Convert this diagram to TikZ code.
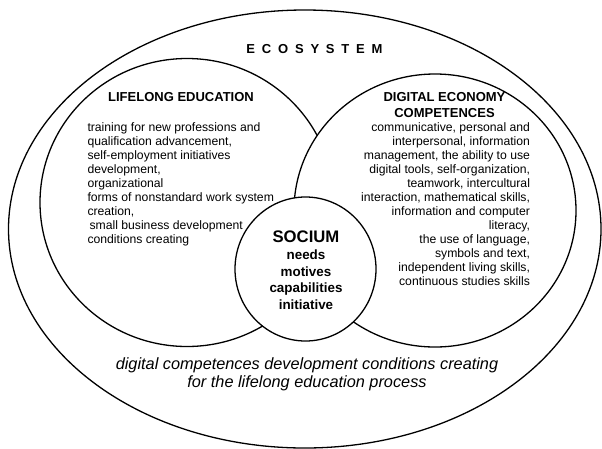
\documentclass[tikz,border=0pt]{standalone}
\usepackage{fontspec}
\setmainfont{Liberation Sans}
\begin{document}
\begin{tikzpicture}[x=1pt,y=-1pt,
  ring/.style={draw=black,line width=1.3pt},
  disc/.style={ring,fill=white},
  txt/.style={inner sep=0pt,outer sep=0pt,text=black},
  headfont/.style={font=\fontsize{13}{16}\selectfont\bfseries},
  bodyfont/.style={font=\fontsize{12.2}{14}\selectfont},
  sociumfont/.style={font=\fontsize{16.7}{20}\selectfont\bfseries},
  itemfont/.style={font=\fontsize{13.4}{16.5}\selectfont\bfseries},
  notefont/.style={font=\fontsize{16.3}{18}\selectfont\itshape}]
\useasboundingbox (0,0) rectangle (602,448);

% ecosystem frame
\draw[ring] (304.75,229) ellipse [x radius=296.25, y radius=219];
% lifelong education
\draw[ring] (187,202.5) ellipse [x radius=147, y radius=144];
% digital economy competences (covers the left circle)
\draw[disc] (435,210.5) ellipse [x radius=141, y radius=136.5];
% socium in the middle
\draw[disc] (305.5,269) ellipse [x radius=70.5, y radius=72];

% titles (multi-line nodes: the base anchor sits on the last line)
\node[txt,headfont,anchor=base] (ecosys) at (314.5,53.8)
  {E\kern6.8pt C\kern6.8pt O\kern6.8pt S\kern6.8pt Y\kern6.8pt S\kern6.8pt T\kern6.8pt E\kern6.8pt M};
\node[txt,headfont,anchor=base] (lifelong) at (181,101.7) {LIFELONG EDUCATION};
\node[txt,headfont,anchor=base,align=center] (digital) at (444.5,117.7)
  {DIGITAL ECONOMY\\COMPETENCES};

% left list
\node[txt,bodyfont,anchor=base west,align=left] (lifelist) at (87.5,243)
  {training for new professions and\\
   qualification advancement,\\
   self-employment initiatives\\
   development,\\
   organizational\\
   forms of nonstandard work system\\
   creation,\\
   \hspace{2pt}small business development\\
   conditions creating};

% right list
\node[txt,bodyfont,anchor=base east,align=right] (digilist) at (530,285)
  {communicative, personal and\\
   interpersonal, information\\
   management, the ability to use\\
   digital tools, self-organization,\\
   teamwork, intercultural\\
   interaction, mathematical skills,\\
   information and computer\\
   literacy,\\
   the use of language,\\
   symbols and text,\\
   independent living skills,\\
   continuous studies skills};

% socium
\node[txt,sociumfont,anchor=base] (socium) at (306,242.6) {SOCIUM};
\node[txt,itemfont,anchor=base,align=center] (needs) at (306,309)
  {needs\\motives\\capabilities\\initiative};

% bottom note
\node[txt,notefont,anchor=base,align=center] (note) at (307,387)
  {digital competences development conditions creating\\for the lifelong education process};
\end{tikzpicture}
\end{document}
